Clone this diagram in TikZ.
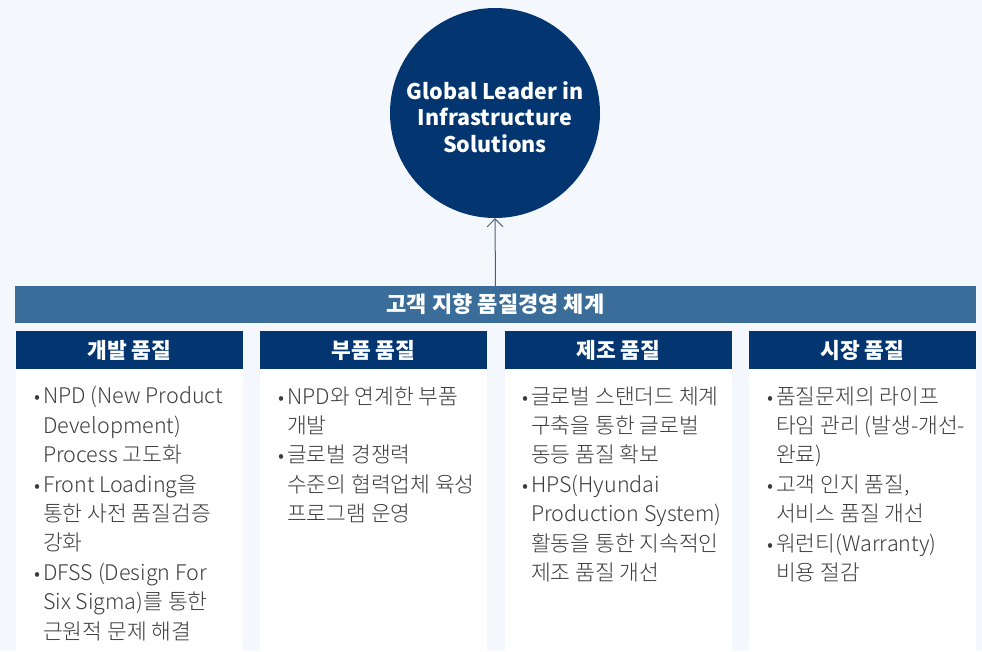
\documentclass[tikz,border=0pt]{standalone}
\usepackage{fontspec}
\setmainfont{Noto Sans CJK KR}
\newfontfamily\lightfont{Noto Sans CJK KR}[UprightFont={* Light}]
\usetikzlibrary{arrows.meta}
\definecolor{navy}{RGB}{3,54,112}
\definecolor{barc}{RGB}{58,109,154}
\definecolor{bgc}{RGB}{244,248,253}
\definecolor{txt}{RGB}{60,60,60}
\definecolor{arr}{RGB}{80,95,120}
\newcommand\bl{\makebox[0pt][r]{{\fontsize{19}{19}\selectfont •}\hspace{3pt}}}
\tikzset{
  head/.style={fill=navy, minimum width=227pt, minimum height=38pt, inner sep=0pt, text=white, font=\bfseries\fontsize{21.5}{24}\selectfont},
  body/.style={fill=white, minimum width=227pt, minimum height=282pt, inner sep=0pt},
  items/.style={anchor=base west, align=left, inner sep=0pt, text=txt, font=\lightfont\fontsize{21.5}{29.4}\selectfont},
}
\begin{document}
\begin{tikzpicture}[x=1pt,y=-1pt]
\useasboundingbox (0,0) rectangle (982,651);
\fill[bgc] (0,0) rectangle (982,651);
% goal circle
\node[circle, fill=navy, minimum size=210pt, inner sep=0pt] (goal) at (495,113) {};
\node[text=white, align=center, inner sep=0pt, font=\bfseries\fontsize{21.5}{26.5}\selectfont] (goaltext) at (495,117) {Global Leader in\\Infrastructure\\Solutions};
% bar
\node[fill=barc, minimum width=961pt, minimum height=37pt, inner sep=0pt, text=white, font=\bfseries\fontsize{22}{24}\selectfont] (bar) at (495.5,304.5) {고객 지향 품질경영 체계};
\draw[arr, line width=1pt, -{Straight Barb[length=8pt,width=16pt]}] (bar.north) -- (goal.south);
% headers
\node[head] (h1) at (129.5,350) {개발 품질};
\node[head] (h2) at (373.5,350) {부품 품질};
\node[head] (h3) at (618.5,350) {제조 품질};
\node[head] (h4) at (862.5,350) {시장 품질};
% bodies
\node[body, anchor=north] (b1) at (h1.south) {};
\node[body, anchor=north] (b2) at (h2.south) {};
\node[body, anchor=north] (b3) at (h3.south) {};
\node[body, anchor=north] (b4) at (h4.south) {};
% items (anchored at the baseline of their last line)
\node[items] (t1) at (43,639) {\bl NPD (New Product\\Development)\\Process 고도화\\\bl Front Loading을\\통한 사전 품질검증\\강화\\\bl DFSS (Design For\\Six Sigma)를 통한\\근원적 문제 해결};
\node[items] (t2) at (287,521.6) {\bl NPD와 연계한 부품\\개발\\\bl 글로벌 경쟁력\\수준의 협력업체 육성\\프로그램 운영};
\node[items] (t3) at (531,580.4) {\bl 글로벌 스탠더드 체계\\구축을 통한 글로벌\\동등 품질 확보\\\bl HPS(Hyundai\\Production System)\\활동을 통한 지속적인\\제조 품질 개선};
\node[items] (t4) at (776,580.4) {\bl 품질문제의 라이프\\타임 관리 (발생-개선-\\완료)\\\bl 고객 인지 품질,\\서비스 품질 개선\\\bl 워런티(Warranty)\\비용 절감};
\end{tikzpicture}
\end{document}
